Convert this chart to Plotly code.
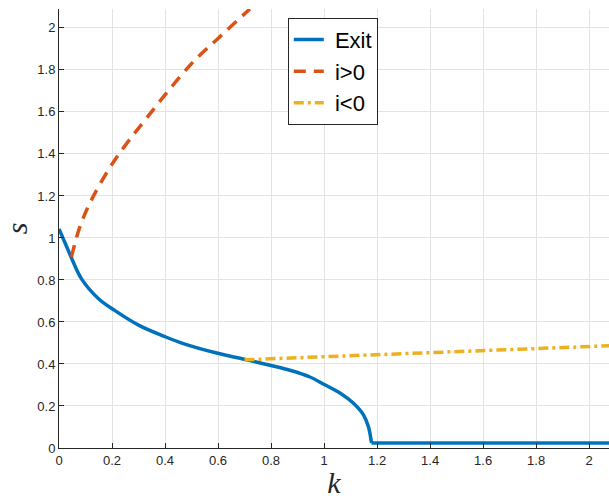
import plotly.graph_objects as go

# Exit curve (curved part, then flat part)
exit_k = [0, 0.025, 0.047, 0.085, 0.148, 0.21, 0.3, 0.4, 0.469, 0.595, 0.708, 0.871,
          0.947, 0.997, 1.06, 1.11, 1.148, 1.167, 1.179]
exit_s = [1.043, 0.97, 0.905, 0.805, 0.712, 0.655, 0.585, 0.53, 0.497, 0.452, 0.42, 0.37,
          0.338, 0.305, 0.262, 0.214, 0.159, 0.103, 0.024]
exit_flat_k = [1.179, 1.5, 2.1]
exit_flat_s = [0.024, 0.024, 0.024]

# i>0 branch
ipos_k = [0.047, 0.078, 0.122, 0.21, 0.33, 0.5, 0.6, 0.72]
ipos_s = [0.91, 1.05, 1.18, 1.37, 1.57, 1.83, 1.95, 2.09]

# i<0 branch
ineg_k = [0.7, 1.0, 1.5, 2.1]
ineg_s = [0.42, 0.435, 0.46, 0.488]

x_ticks = [0, 0.2, 0.4, 0.6, 0.8, 1, 1.2, 1.4, 1.6, 1.8, 2]
y_ticks = [0, 0.2, 0.4, 0.6, 0.8, 1, 1.2, 1.4, 1.6, 1.8, 2]
tick_text = ["0", "0.2", "0.4", "0.6", "0.8", "1", "1.2", "1.4", "1.6", "1.8", "2"]

BLUE, ORANGE, YELLOW = "#0072BD", "#D95319", "#EDB120"
LW = 3.5

fig = go.Figure()
fig.add_trace(go.Scatter(x=exit_k, y=exit_s, mode="lines", name=" Exit", legendgroup="exit",
                         line=dict(color=BLUE, width=LW, shape="spline", smoothing=1.0)))
fig.add_trace(go.Scatter(x=exit_flat_k, y=exit_flat_s, mode="lines", name=" Exit",
                         legendgroup="exit", showlegend=False,
                         line=dict(color=BLUE, width=LW)))
fig.add_trace(go.Scatter(x=ipos_k, y=ipos_s, mode="lines", name=" i>0",
                         line=dict(color=ORANGE, width=LW, dash="12px,8px",
                                   shape="spline", smoothing=1.0)))
fig.add_trace(go.Scatter(x=ineg_k, y=ineg_s, mode="lines", name=" i<0",
                         line=dict(color=YELLOW, width=LW, dash="10px,4px,3px,4px")))

axis_common = dict(
    showgrid=True, gridcolor="#e3e3e3", gridwidth=1,
    showline=True, linecolor="#262626", linewidth=1, mirror=False,
    ticks="inside", ticklen=5, tickcolor="#262626",
    tickfont=dict(family="Liberation Sans, Arial", size=13, color="#262626"),
    zeroline=False,
)

fig.update_layout(
    width=609, height=499,
    margin=dict(l=59, r=0, t=9, b=51),
    paper_bgcolor="white", plot_bgcolor="white",
    xaxis=dict(range=[0, 2.075], tickvals=x_ticks, ticktext=tick_text,
               title=dict(text="<i>k</i>", font=dict(family="Liberation Serif", size=30, color="#262626"),
                          standoff=11),
               **axis_common),
    yaxis=dict(range=[0, 2.09], tickvals=y_ticks, ticktext=tick_text,
               title=dict(text="<i>s</i>", font=dict(family="Liberation Serif", size=30, color="#262626"),
                          standoff=8),
               **axis_common),
    legend=dict(x=0.416, y=0.98, xanchor="left", yanchor="top",
                bgcolor="white", bordercolor="#262626", borderwidth=1,
                font=dict(family="Liberation Sans, Arial", size=22, color="black"),
                tracegroupgap=0, itemwidth=30),
    showlegend=True,
)

fig.write_html("out.html")
